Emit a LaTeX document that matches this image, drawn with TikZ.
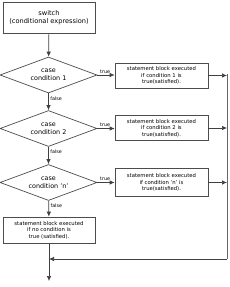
\documentclass[tikz,border=0pt]{standalone}
\usepackage{fontspec}
\setmainfont{DejaVu Sans}
\usetikzlibrary{shapes.geometric,arrows.meta}
\begin{document}
\begin{tikzpicture}[x=1pt,y=-1pt,
  box/.style={draw=black!70,line width=0.7pt,align=center,inner sep=0pt},
  sbox/.style={box,minimum width=93pt,font=\fontsize{5.3}{6.6}\selectfont},
  dia/.style={draw=black!70,diamond,aspect=2.7,line width=0.7pt,align=center,inner sep=0pt,minimum width=97pt,minimum height=36pt,font=\fontsize{6.4}{8}\selectfont},
  arr/.style={draw=black!75,line width=0.7pt,-{Latex[length=5pt,width=4.5pt]}},
  ln/.style={draw=black!60,line width=0.7pt},
  lbl/.style={font=\fontsize{4.8}{5}\selectfont,inner sep=1.5pt}]
\useasboundingbox (0,0) rectangle (230,287);
\node[box,minimum width=92pt,minimum height=31pt,font=\fontsize{6.6}{8.6}\selectfont] (sw) at (49,17.5) {switch\\(conditional expression)};
\node[dia] (d1) at (48.5,75) {case\\condition 1};
\node[dia] (d2) at (48.5,128.5) {case\\condition 2};
\node[dia] (d3) at (48.5,182.5) {case\\condition 'n'};
\node[sbox,minimum height=25pt] (b1) at (161.5,75.5) {statement block executed\\if condition 1 is\\true(satisfied).};
\node[sbox,minimum height=25pt] (b2) at (161.5,128) {statement block executed\\if condition 2 is\\true(satisfied).};
\node[sbox,minimum height=28pt] (b3) at (161.5,182.5) {statement block executed\\if condition 'n' is\\true(satisfied).};
\node[sbox,minimum width=92pt,minimum height=26pt] (bb) at (49,230) {statement block executed\\if no condition is\\true (satisfied).};
\coordinate (rtop) at (227,74);
\coordinate (rbot) at (227,259);
\coordinate (join) at (49,259);
\coordinate (fin) at (49,281);
\draw[arr] (sw) -- (d1);
\draw[arr] (d1) -- node[lbl,anchor=west,pos=0.3]{false} (d2);
\draw[arr] (d2) -- node[lbl,anchor=west,pos=0.3]{false} (d3);
\draw[arr] (d3) -- node[lbl,anchor=west,pos=0.3]{false} (bb);
\draw[arr] (d1.east) -- node[lbl,above,pos=0.45]{true} (d1.east -| b1.west);
\draw[arr] (d2.east) -- node[lbl,above,pos=0.45]{true} (d2.east -| b2.west);
\draw[arr] (d3.east) -- node[lbl,above,pos=0.45]{true} (d3.east -| b3.west);
\draw[arr] (b1.east) -- (b1.east -| rtop);
\draw[arr] (b2.east) -- (b2.east -| rtop);
\draw[arr] (b3.east) -- (b3.east -| rtop);
\draw[ln] (rtop) -- (rbot);
\draw[arr] (rbot) -- (join);
\draw[arr] (bb) -- (fin);
\end{tikzpicture}
\end{document}
